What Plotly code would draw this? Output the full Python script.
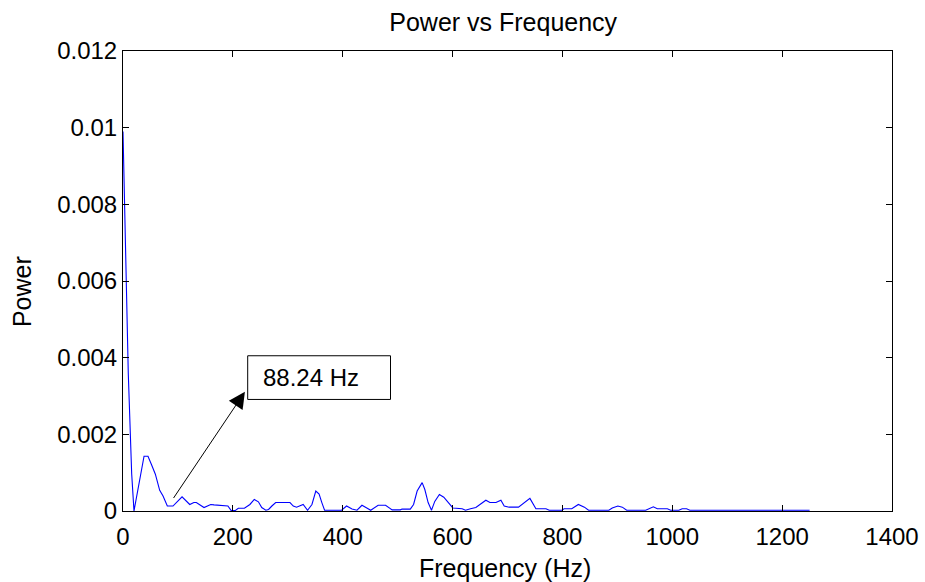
import plotly.graph_objects as go

freq_hz = [0, 5.5, 9.6, 15.8, 20, 38.3, 45.5, 51.6, 58.9, 66.8, 72.9, 80.7, 91, 107.5,
           121.5, 129, 133.5, 147.5, 159.7, 165.8, 191, 197, 204, 210, 221, 231, 239,
           246.5, 252.6, 260, 265, 271, 278, 304, 310, 316, 328, 336, 344, 351, 357, 362,
           367, 398, 407, 417, 426, 435, 441, 451, 464.5, 478, 490, 505, 508, 523, 529,
           535.5, 544.6, 549.5, 555.5, 561.6, 567.6, 576, 584, 592, 600.5, 617.5, 623.5,
           632.6, 642.4, 660.6, 668, 679, 688, 694, 703, 720, 730.4, 740.8, 751.7, 770,
           776, 799, 803, 817, 829, 840, 847.6, 851, 884.5, 890.7, 901, 909, 917, 951.6,
           957.6, 965.5, 972.7, 991, 997, 1012, 1018, 1026, 1032, 1250]
power = [0.0099, 0.0062, 0.0036, 0.00097, 0.0, 0.00143, 0.00143, 0.00122, 0.00096, 0.00054,
         0.00039, 0.00013, 0.00013, 0.00037, 0.00017, 0.00022, 0.00022, 0.00009, 0.00017,
         0.00016, 0.00013, 0.00001, 0.00001, 0.00007, 0.00007, 0.00017, 0.0003, 0.00024,
         0.00009, 0.00002, 0.00004, 0.00013, 0.00022, 0.00022, 0.00013, 0.0001, 0.00017,
         0.00002, 0.00017, 0.00052, 0.00044, 0.00022, 0.00002, 0.00002, 0.00013, 0.00005,
         0.00002, 0.00015, 0.0001, 0.00002, 0.00015, 0.00015, 0.00003, 0.00003, 0.00005,
         0.00005, 0.00017, 0.00052, 0.00074, 0.00056, 0.00022, 0.00002, 0.00025, 0.00043,
         0.00036, 0.00022, 0.00008, 0.00006, 0.00002, 0.00006, 0.00009, 0.00028, 0.00022,
         0.00022, 0.00028, 0.00013, 0.0001, 0.0001, 0.00022, 0.00033, 0.00006, 0.00006,
         0.00002, 0.00002, 0.00006, 0.00006, 0.00017, 0.0001, 0.00002, 0.00002, 0.00002,
         0.00008, 0.00013, 0.0001, 0.00002, 0.00002, 0.00006, 0.00011, 0.00006, 0.00006,
         0.00002, 0.00002, 0.00006, 0.00006, 0.00002, 0.00002]

x_ticks = [0, 200, 400, 600, 800, 1000, 1200, 1400]
x_ticktext = ["0", "200", "400", "600", "800", "1000", "1200", "1400"]
y_ticks = [0, 0.002, 0.004, 0.006, 0.008, 0.01, 0.012]
y_ticktext = ["0", "0.002", "0.004", "0.006", "0.008", "0.01", "0.012"]

marker_freq = 88.24
marker_label = "88.24 Hz"
marker_power = 0.0003
label_box = dict(x0=227, x1=487, y0=0.00291, y1=0.00405)
arrow_head = (222, 0.00311)

FONT = "Arial, Liberation Sans, Helvetica, sans-serif"

fig = go.Figure()
fig.add_trace(go.Scatter(x=freq_hz, y=power, mode="lines",
                         line=dict(color="#0000ff", width=1.1), showlegend=False,
                         hoverinfo="x+y"))

axis_common = dict(showline=True, linecolor="black", linewidth=1, mirror="ticks",
                   ticks="inside", ticklen=6, tickcolor="black", showgrid=False,
                   zeroline=False, automargin=False,
                   tickfont=dict(family=FONT, size=24, color="black"))

fig.update_xaxes(range=[0, 1400], tickvals=x_ticks, ticktext=x_ticktext,
                 ticklabelstandoff=4, **axis_common)
fig.update_yaxes(range=[0, 0.012], tickvals=y_ticks, ticktext=y_ticktext,
                 **axis_common)

# axis titles
fig.add_annotation(x=0.497, y=-0.124, xref="paper", yref="paper", text="Frequency (Hz)",
                   showarrow=False, xanchor="center", yanchor="middle",
                   font=dict(family=FONT, size=25, color="black"))
fig.add_annotation(x=-0.1313, y=0.476, xref="paper", yref="paper", text="Power",
                   showarrow=False, xanchor="center", yanchor="middle", textangle=-90,
                   font=dict(family=FONT, size=25, color="black"))

# label box
fig.add_shape(type="rect", xref="x", yref="y", x0=label_box["x0"], x1=label_box["x1"],
              y0=label_box["y0"], y1=label_box["y1"], line=dict(color="black", width=1),
              fillcolor="white", layer="above")
fig.add_annotation(x=label_box["x0"] + 24, y=(label_box["y0"] + label_box["y1"]) / 2,
                   xref="x", yref="y", text=marker_label, showarrow=False,
                   xanchor="left", yanchor="middle",
                   font=dict(family=FONT, size=24, color="black"))
# arrow from the marked point to the label
fig.add_annotation(x=arrow_head[0], y=arrow_head[1], xref="x", yref="y",
                   ax=marker_freq + 2, ay=marker_power, axref="x", ayref="y",
                   text="", showarrow=True, arrowhead=2, arrowsize=3.3, arrowwidth=1,
                   arrowcolor="black", standoff=0, startstandoff=0)

fig.update_layout(
    width=925, height=582,
    margin=dict(l=123, r=33, t=51, b=71, autoexpand=False),
    paper_bgcolor="white", plot_bgcolor="white",
    title=dict(text="Power vs Frequency", x=0.544,
               xanchor="center", y=1 - 22 / 582, yanchor="middle", yref="container",
               font=dict(family=FONT, size=25, color="black")),
    font=dict(family=FONT, color="black"),
)

fig.write_html("out.html")
